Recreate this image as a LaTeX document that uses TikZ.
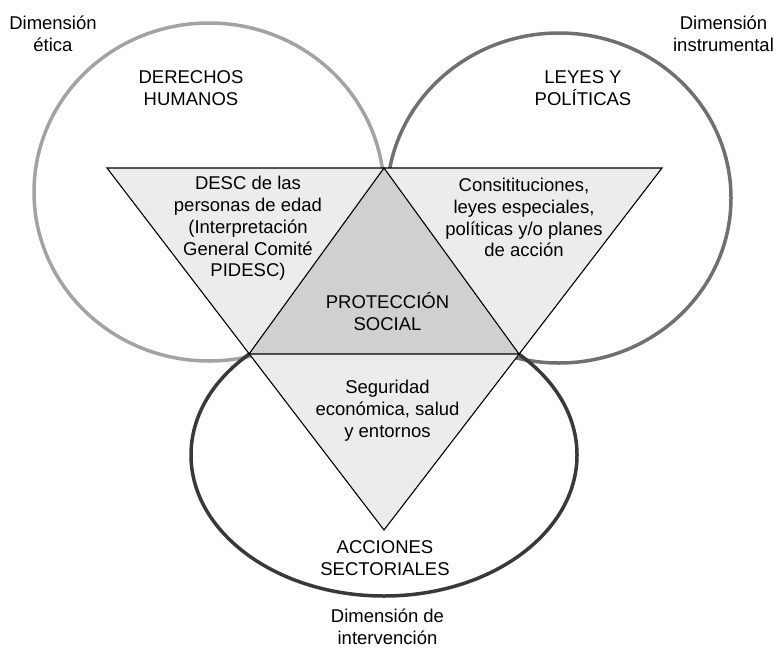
\documentclass[tikz,border=0pt]{standalone}
\usepackage{fontspec}
\setmainfont{Liberation Sans}
\definecolor{ringA}{HTML}{A3A3A5}
\definecolor{ringB}{HTML}{707072}
\definecolor{ringC}{HTML}{3A393A}
\definecolor{triOut}{HTML}{EBECEC}
\definecolor{triIn}{HTML}{D0D0D2}
\begin{document}
\begin{tikzpicture}[x=1pt,y=-1pt,
  lbl/.style={align=center, font=\fontsize{18.5}{21.8}\selectfont, inner sep=0pt},
  ring/.style={line width=3.5pt},
  tri/.style={draw=black, line width=1.1pt, line join=miter}]
\useasboundingbox (0,0) rectangle (778,648);
% dimension rings
\draw[ring, ringA] (209,192) ellipse [x radius=175pt, y radius=169pt];
\draw[ring, ringB] (559,198) ellipse [x radius=172pt, y radius=165pt];
\draw[ring, ringC] (384,455) ellipse [x radius=193pt, y radius=141pt];
% triangles
\coordinate (tl) at (107,168);
\coordinate (tr) at (662,168);
\coordinate (bt) at (384,530);
\coordinate (ta) at (384,168);
\coordinate (ml) at (249,354);
\coordinate (mr) at (519,354);
\filldraw[tri, fill=triOut] (tl) -- (tr) -- (bt) -- cycle;
\filldraw[tri, fill=triIn] (ta) -- (mr) -- (ml) -- cycle;
% labels
\node[lbl] (etica) at (53,34) {Dimensión\\ética};
\node[lbl] (instr) at (723.5,34) {Dimensión\\instrumental};
\node[lbl] (dh) at (191,88) {DERECHOS\\HUMANOS};
\node[lbl] (lp) at (583,88) {LEYES Y\\POLÍTICAS};
\node[lbl] (desc) at (248,228.5) {DESC de las\\personas de edad\\(Interpretación\\General Comité\\PIDESC)};
\node[lbl] (cons) at (524,217.5) {Consitituciones,\\leyes especiales,\\políticas y/o planes\\de acción};
\node[lbl] (ps) at (387.5,311.5) {PROTECCIÓN\\SOCIAL};
\node[lbl] (seg) at (387.5,410.5) {Seguridad\\económica, salud\\y entornos};
\node[lbl] (acc) at (385,558) {ACCIONES\\SECTORIALES};
\node[lbl] (interv) at (387.5,627) {Dimensión de\\intervención};
\end{tikzpicture}
\end{document}
